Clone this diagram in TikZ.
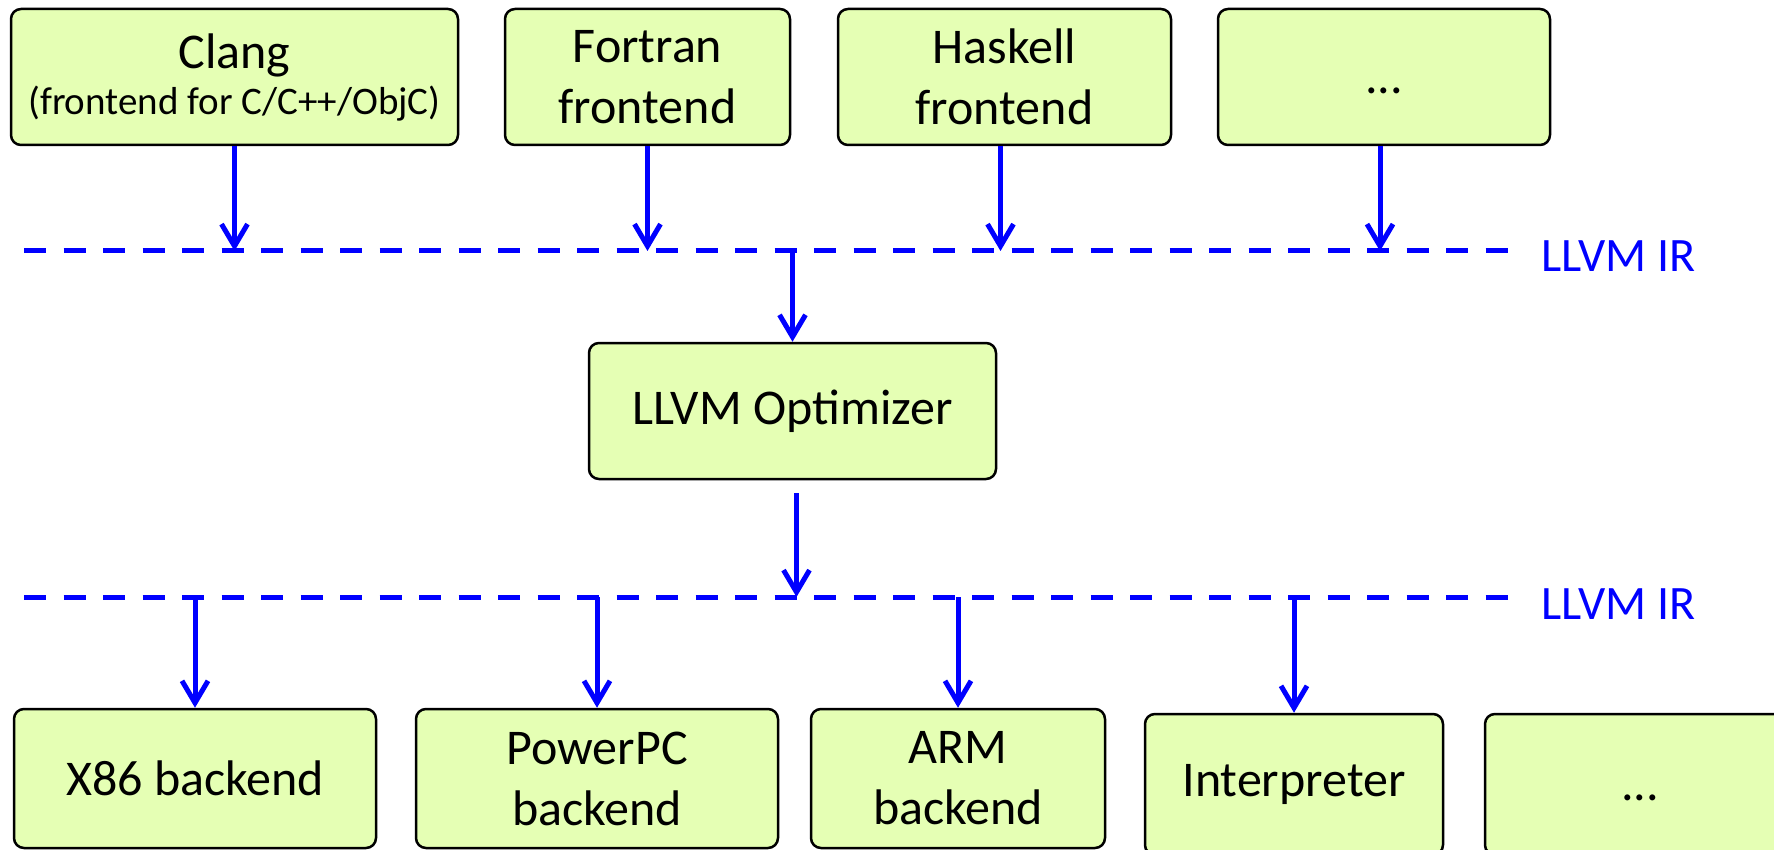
\documentclass[tikz,border=0pt]{standalone}
\usepackage{fontspec}
\setmainfont{Carlito}
\usetikzlibrary{arrows.meta}
\definecolor{boxfill}{RGB}{229,255,180}
\definecolor{irblue}{RGB}{0,0,255}
\begin{document}
\begin{tikzpicture}[x=1pt,y=-1pt,
  box/.style={draw=black, line width=2.5pt, rounded corners=10pt, fill=boxfill,
    align=center, inner sep=0pt, font=\fontsize{50}{61}\selectfont, text=black},
  arr/.style={draw=irblue, line width=5pt,
    -{Straight Barb[length=22pt,width=26pt,line width=5pt]}},
  irline/.style={draw=irblue, line width=5pt, dash pattern=on 22pt off 17.5pt},
  irlabel/.style={text=irblue, font=\fontsize{48}{58}\selectfont, anchor=west, inner sep=0pt}]
\useasboundingbox (0,0) rectangle (1774,850);

% top row
\node[box, minimum width=447pt, minimum height=136pt] (clang) at (234.5,77)
  {Clang\\[-15pt]{\fontsize{39}{47}\selectfont (frontend for C/C++/ObjC)}};
\node[box, minimum width=285pt, minimum height=136pt] (fortran) at (647.5,77) {Fortran\\frontend};
\node[box, minimum width=333pt, minimum height=136pt] (haskell) at (1004.5,77) {Haskell\\frontend};
\node[box, minimum width=332pt, minimum height=136pt] (dotsA) at (1384,77) {\vphantom{C}...};

% optimizer
\node[box, minimum width=407pt, minimum height=136pt] (opt) at (792.5,411) {LLVM Optimizer};

% bottom row
\node[box, minimum width=362pt, minimum height=139pt] (x86) at (195,778.5) {X86 backend};
\node[box, minimum width=362pt, minimum height=139pt] (ppc) at (597,778.5) {PowerPC\\backend};
\node[box, minimum width=294pt, minimum height=139pt] (arm) at (958,778.5) {ARM\\backend};
\node[box, minimum width=298pt, minimum height=141pt] (interp) at (1294,784.5) {Interpreter};
\node[box, minimum width=310pt, minimum height=141pt] (dotsB) at (1640,784.5) {\vphantom{C}...};

% IR lines
\coordinate (irAL) at (24,251);
\coordinate (irAR) at (1510,251);
\coordinate (irBL) at (24,597);
\coordinate (irBR) at (1510,597);
\draw[irline] (irAL) -- (irAR);
\draw[irline] (irBL) -- (irBR);
\node[irlabel] (labA) at (1541,256) {LLVM IR};
\node[irlabel] (labB) at (1541,604) {LLVM IR};

% arrows to first IR line
\draw[arr] (clang.south) -- (clang.south |- irAL);
\draw[arr] (fortran.south) -- (fortran.south |- irAL);
\draw[arr] ([xshift=-4pt]haskell.south) -- ([xshift=-4pt]haskell.south |- irAL);
\draw[arr] ([xshift=-4pt]dotsA.south) -- ([xshift=-4pt]dotsA.south |- irAL);

% through optimizer
\draw[arr] (opt.north |- irAL) -- (opt.north);
\draw[arr] ([xshift=4pt,yshift=-13pt]opt.south) -- ([xshift=4pt]opt.south |- irBL);

% arrows to backends
\draw[arr] (x86.north |- irBL) -- (x86.north);
\draw[arr] (ppc.north |- irBL) -- (ppc.north);
\draw[arr] (arm.north |- irBL) -- (arm.north);
\draw[arr] (interp.north |- irBL) -- (interp.north);
\end{tikzpicture}
\end{document}
